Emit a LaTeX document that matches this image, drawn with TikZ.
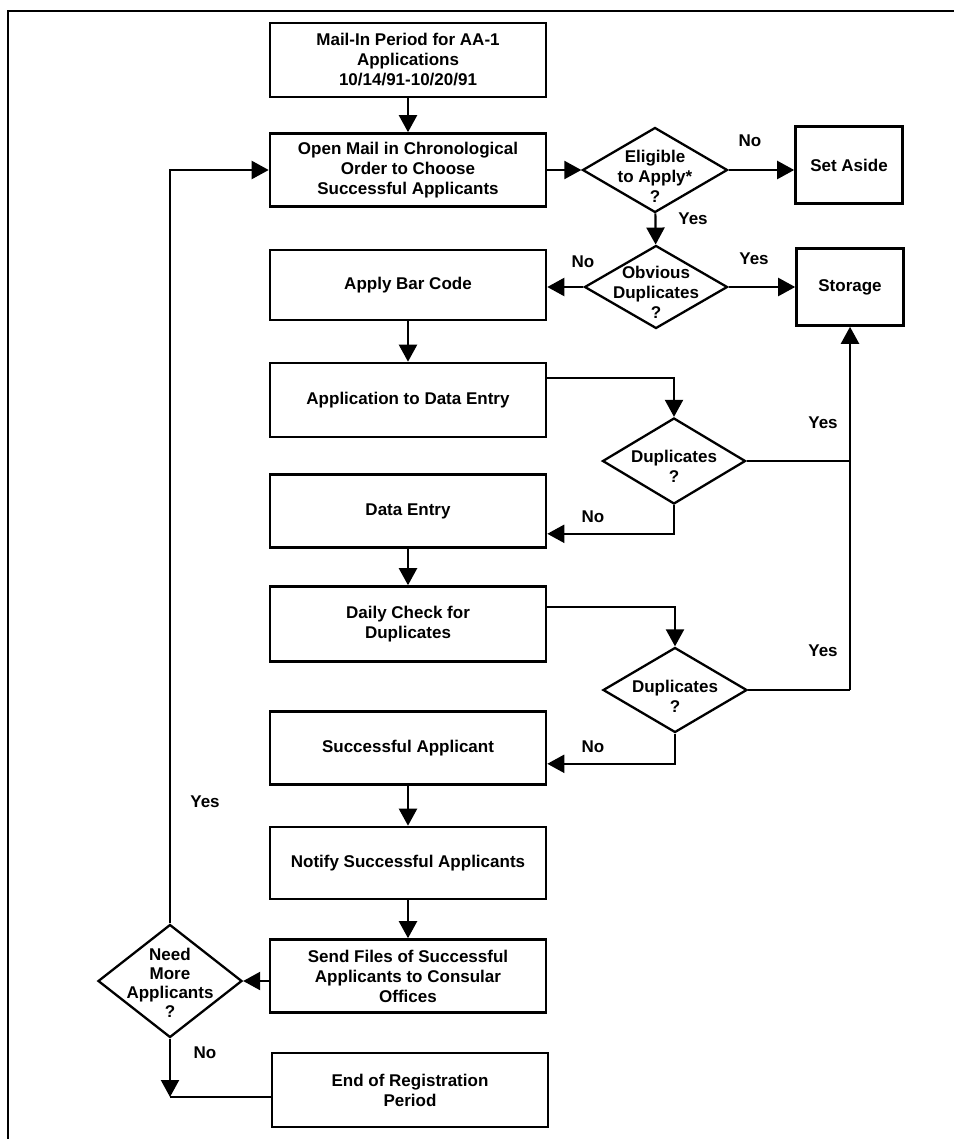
\documentclass[tikz,border=0pt]{standalone}
\usepackage{fontspec}
\setmainfont{Liberation Sans}
\usepackage{tikz}
\usetikzlibrary{shapes.geometric,arrows.meta}

\begin{document}
\begin{tikzpicture}[x=1pt,y=-1pt,
  font=\fontsize{17}{20}\selectfont\bfseries,
  box/.style={draw,line width=2.6pt,minimum width=276pt,minimum height=73pt,align=center,inner sep=2pt},
  decision/.style={draw,shape=diamond,line width=2.3pt,inner sep=0pt},
  dtext/.style={align=center,inner sep=0pt},
  lbl/.style={inner sep=0pt},
  flow/.style={line width=2.2pt,-{Triangle[length=17pt,width=18pt]}},
  plain/.style={line width=2.2pt}]
\useasboundingbox (0,0) rectangle (954,1139);
% frame (only top and left edge are in view)
\draw[line width=1.8pt] (8,1139) -- (8,11) -- (954,11);

% main column
\node[box,minimum height=74pt] (mail) at (408,60) {Mail-In Period for AA-1\\Applications\\10/14/91-10/20/91};
\node[box] (open) at (408,170) {Open Mail in Chronological\\Order to Choose\\Successful Applicants};
\node[box,minimum height=70pt] (bar) at (408,285) {Apply Bar Code};
\node[box,minimum height=74pt] (appde) at (408,400) {Application to Data Entry};
\node[box] (de) at (408,511) {Data Entry};
\node[box,minimum height=75pt] (daily) at (408,624) {Daily Check for\\Duplicates};
\node[box] (succ) at (408,748) {Successful Applicant};
\node[box,minimum height=72pt] (notify) at (408,863) {Notify Successful Applicants};
\node[box] (send) at (408,976) {Send Files of Successful\\Applicants to Consular\\Offices};
\node[box,minimum height=74pt] (endreg) at (410,1090) {End of Registration\\Period};

% right side
\node[box,minimum width=107pt,minimum height=77pt] (aside) at (849,165) {Set Aside};
\node[box,minimum width=107pt,minimum height=77pt] (stor) at (850,287) {Storage};

% decisions
\node[decision,minimum width=145pt,minimum height=85pt] (elig) at (655,170) {};
\node[dtext] (elig-t) at (655,176) {Eligible\\to Apply*\\?};
\node[decision,minimum width=143pt,minimum height=83pt] (obv) at (656,287) {};
\node[dtext] (obv-t) at (656,292) {Obvious\\Duplicates\\?};
\node[decision,minimum width=143pt,minimum height=86pt] (dup1) at (674,461) {};
\node[dtext] (dup1-t) at (674,466) {Duplicates\\?};
\node[decision,minimum width=144pt,minimum height=85pt] (dup2) at (675,690) {};
\node[dtext] (dup2-t) at (675,696) {Duplicates\\?};
\node[decision,minimum width=144pt,minimum height=113pt] (more) at (170,981) {};
\node[dtext,font=\fontsize{17}{19}\selectfont\bfseries] (more-t) at (170,983) {Need\\More\\Applicants\\?};

% connectors
\draw[flow] (mail) -- (open);
\draw[flow] (open) -- (elig);
\draw[flow] (elig.east) -- (elig.east -| aside.west);
\draw[flow] (elig) -- (obv);
\draw[flow] (obv.west) -- (obv.west -| bar.east);
\draw[flow] (obv.east) -- (obv.east -| stor.west);
\draw[flow] (bar) -- (appde);
\draw[flow] ([yshift=-16pt]appde.north east) -| (dup1.north);
\draw[flow] (dup1.south) |- ([yshift=15pt]de.south east);
\draw[flow] (de) -- (daily);
\draw[flow] ([yshift=-22pt]daily.north east) -| (dup2.north);
\draw[flow] (dup2.south) |- ([yshift=22pt]succ.south east);
\draw[flow] (succ) -- (notify);
\draw[flow] (notify) -- (send);
\draw[flow] (send.west |- more.east) -- (more.east);
\draw[plain] (dup1.east) -- (dup1.east -| stor.south);
\draw[plain] (dup2.east) -- (dup2.east -| stor.south);
\draw[flow] (stor.south |- dup2.east) -- (stor.south);
\draw[flow] (more.north) |- (open.west);
\coordinate (nojoin) at (more.south |- 0,1097);
\draw[flow] (more.south) -- (nojoin);
\draw[plain] ([yshift=-7pt]endreg.west) -- (nojoin);

% yes / no
\node[lbl] (l1) at (750,141) {No};
\node[lbl] (l2) at (693,219) {Yes};
\node[lbl] (l3) at (583,262) {No};
\node[lbl] (l4) at (754,259) {Yes};
\node[lbl] (l5) at (823,423) {Yes};
\node[lbl] (l6) at (593,517) {No};
\node[lbl] (l7) at (823,651) {Yes};
\node[lbl] (l8) at (593,747) {No};
\node[lbl] (l9) at (205,802) {Yes};
\node[lbl] (l10) at (205,1053) {No};
\end{tikzpicture}
\end{document}
